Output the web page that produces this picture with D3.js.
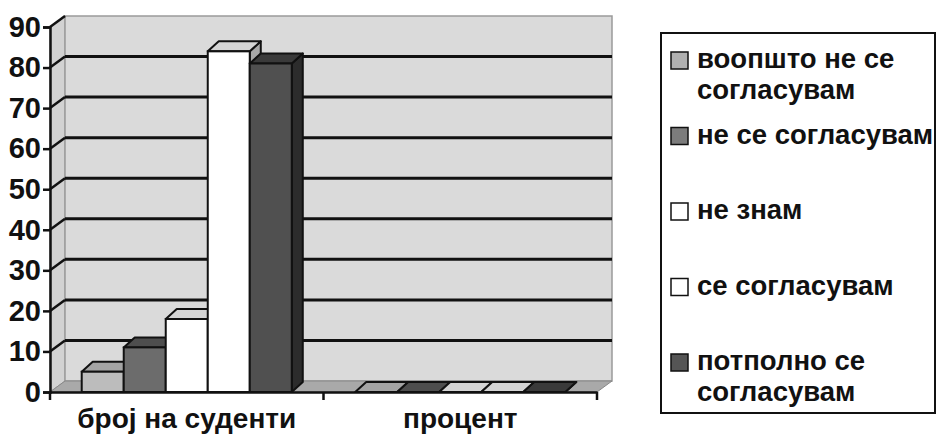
<!DOCTYPE html>
<meta charset="utf-8">
<style>
body { margin: 0; background: #fff; }
svg text { font-family: "Liberation Sans", Arial, sans-serif; font-weight: bold; fill: #111; }
</style>
<div id="chart"></div>
<script src="https://d3js.org/d3.v7.min.js"></script>
<script>

var categories = ["број на суденти", "процент"];
var series = ["воопшто не се согласувам", "не се согласувам", "не знам", "се согласувам", "потполно се согласувам"];
var studentCounts = [5, 11, 18, 84, 81];
var percentValues = [0, 0, 0, 0, 0];
var yTicks = [0, 10, 20, 30, 40, 50, 60, 70, 80, 90];
var legendLines = [["воопшто не се", "согласувам"], ["не се согласувам"], ["не знам"], ["се согласувам"], ["потполно се", "согласувам"]];

var width = 936, height = 436;

// front face color, top face, side face
var front = ["#bcbcbc", "#6c6c6c", "#ffffff", "#ffffff", "#505050"];
var topc  = ["#a4a4a4", "#4e4e4e", "#d4d4d4", "#d4d4d4", "#3a3a3a"];
var side  = ["#9a9a9a", "#404040", "#b0b0b0", "#a8a8a8", "#2c2c2c"];
var swatch = ["#b0b0b0", "#7c7c7c", "#ffffff", "#ffffff", "#555555"];

var svg = d3.select("#chart")
    .append("svg")
    .attr("width", width)
    .attr("height", height);

var y = d3.scaleLinear().domain([0, 90]).range([392, 27]);
var x0 = d3.scaleBand().domain(categories).range([50, 597]);
var x1 = d3.scaleBand().domain(series).range([0, x0.bandwidth()]).paddingOuter(0.755);

var wdx = 15, wdy = -11;   // wall depth
var bdx = 11, bdy = -10;   // bar depth

function poly(pts) { return "M" + pts.map(function(p) { return p.join(","); }).join("L") + "Z"; }

var x0L = x0.range()[0], x0R = x0.range()[1];

// side wall
svg.append("path")
    .attr("d", poly([[x0L, y(0)], [x0L, y(90)], [x0L + wdx, y(90) + wdy], [x0L + wdx, y(0) + wdy]]))
    .attr("fill", "#d2d2d2").attr("stroke", "#999").attr("stroke-width", 1);

// back wall
svg.append("rect")
    .attr("x", x0L + wdx).attr("y", y(90) + wdy)
    .attr("width", x0R - x0L).attr("height", y(0) - y(90))
    .attr("fill", "#dadada").attr("stroke", "#9a9a9a").attr("stroke-width", 1.5);

// floor
svg.append("path")
    .attr("d", poly([[x0L, y(0)], [x0R, y(0)], [x0R + wdx, y(0) + wdy], [x0L + wdx, y(0) + wdy]]))
    .attr("fill", "#a9a9a9").attr("stroke", "#888").attr("stroke-width", 1);

// gridlines on back wall + side wall
var grid = yTicks.filter(function(d) { return d > 0 && d < 90; });
svg.append("g").selectAll("line.g")
    .data(grid).enter().append("line")
    .attr("x1", x0L + wdx).attr("x2", x0R + wdx)
    .attr("y1", function(d) { return y(d) + wdy; })
    .attr("y2", function(d) { return y(d) + wdy; })
    .attr("stroke", "#111").attr("stroke-width", 3);
svg.append("g").selectAll("line")
    .data(yTicks.filter(function(d) { return d > 0; })).enter().append("line")
    .attr("x1", x0L).attr("x2", x0L + wdx)
    .attr("y1", function(d) { return y(d); })
    .attr("y2", function(d) { return y(d) + wdy; })
    .attr("stroke", "#111").attr("stroke-width", 2.5);

// bars
var rows = [studentCounts, percentValues];
categories.forEach(function(cat, ci) {
  series.forEach(function(s, si) {
    var v = rows[ci][si];
    var xl = x0(cat) + x1(s), xr = xl + x1.bandwidth();
    var yt = y(v), yb = y(0);
    var g = svg.append("g");
    g.append("path")
        .attr("d", poly([[xr, yt], [xr + bdx, yt + bdy], [xr + bdx, yb + bdy], [xr, yb]]))
        .attr("fill", side[si]).attr("stroke", "#111").attr("stroke-width", 2).attr("stroke-linejoin", "round");
    g.append("path")
        .attr("d", poly([[xl, yt], [xl + bdx, yt + bdy], [xr + bdx, yt + bdy], [xr, yt]]))
        .attr("fill", topc[si]).attr("stroke", "#111").attr("stroke-width", 2).attr("stroke-linejoin", "round");
    if (v > 0) {
      g.append("rect")
          .attr("x", xl).attr("y", yt).attr("width", xr - xl).attr("height", yb - yt)
          .attr("fill", front[si]).attr("stroke", "#111").attr("stroke-width", 2);
    }
  });
});

// axes
var yAxis = d3.axisLeft(y).tickValues(yTicks).tickSize(7).tickPadding(2);
var gy = svg.append("g").attr("transform", "translate(" + x0L + ",0)").call(yAxis);
gy.select(".domain").attr("stroke", "#111").attr("stroke-width", 2.5);
gy.selectAll(".tick line").attr("stroke", "#111").attr("stroke-width", 2.5);
gy.selectAll(".tick text").attr("font-size", 29).attr("fill", "#111")
    .style("font-family", "'Liberation Sans', Arial, sans-serif").style("font-weight", "bold");

var xAxis = d3.axisBottom(x0).tickSize(0).tickPadding(16);
var gx = svg.append("g").attr("transform", "translate(0," + y(0) + ")").call(xAxis);
gx.select(".domain").attr("stroke", "#111").attr("stroke-width", 2.5);
gx.selectAll(".tick text").attr("font-size", 28).attr("fill", "#111")
    .style("font-family", "'Liberation Sans', Arial, sans-serif").style("font-weight", "bold");
// category boundary ticks
svg.append("g").selectAll("line")
    .data([x0L, x0(categories[1]), x0R]).enter().append("line")
    .attr("x1", function(d) { return d; }).attr("x2", function(d) { return d; })
    .attr("y1", y(0)).attr("y2", y(0) + 8)
    .attr("stroke", "#111").attr("stroke-width", 2.5);

// legend
var lg = svg.append("g");
lg.append("rect")
    .attr("x", 661).attr("y", 33).attr("width", 274).attr("height", 380)
    .attr("fill", "#fff").attr("stroke", "#111").attr("stroke-width", 2);
var ly = d3.scalePoint().domain(series).range([68, 370]);
series.forEach(function(s, i) {
  lg.append("rect")
      .attr("x", 671).attr("y", ly(s) - 16).attr("width", 17).attr("height", 17)
      .attr("fill", swatch[i]).attr("stroke", "#111").attr("stroke-width", 1.5);
  var t = lg.append("text").attr("x", 697).attr("y", ly(s)).attr("font-size", 27.5);
  legendLines[i].forEach(function(line, li) {
    t.append("tspan").attr("x", 697).attr("dy", li === 0 ? 0 : 31).text(line);
  });
});

</script>
